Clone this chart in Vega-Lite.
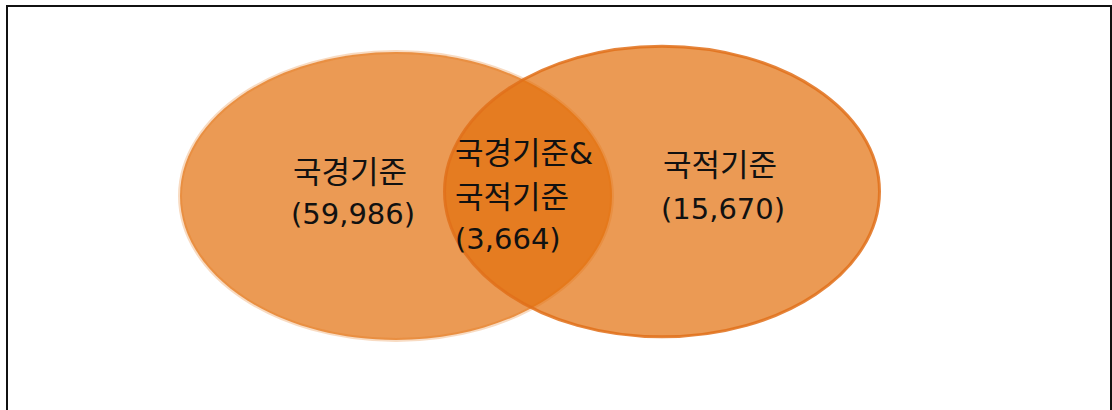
{
  "$schema": "https://vega.github.io/schema/vega-lite/v6.json",
  "width": 1104,
  "height": 420,
  "padding": {"left": 7, "top": 6, "right": 1, "bottom": 0},
  "background": "white",
  "config": {"view": {"stroke": "#111111", "strokeWidth": 2}},
  "datasets": {
    "sets": [
      {"set": "국경기준", "cx": 389, "cy": 190},
      {"set": "국적기준", "cx": 655, "cy": 185.5}
    ],
    "labels": [
      {"region": "국경기준", "kind": "name", "text": "국경기준", "lx": 343, "ly": 168},
      {"region": "국경기준", "kind": "count", "text": "(59,986)", "lx": 346, "ly": 209},
      {"region": "교집합", "kind": "name", "text": "국경기준&", "lx": 448, "ly": 149},
      {"region": "교집합", "kind": "name", "text": "국적기준", "lx": 448, "ly": 193},
      {"region": "교집합", "kind": "count", "text": "(3,664)", "lx": 448, "ly": 234},
      {"region": "국적기준", "kind": "name", "text": "국적기준", "lx": 713, "ly": 161},
      {"region": "국적기준", "kind": "count", "text": "(15,670)", "lx": 716, "ly": 204}
    ]
  },
  "layer": [
    {
      "data": {"name": "sets"},
      "transform": [{"filter": "datum.set === '국경기준'"}],
      "mark": {
        "type": "point",
        "filled": true,
        "shape": "M 1 0 C 1 0.3682 0.5523 0.6667 0 0.6667 C -0.5523 0.6667 -1 0.3682 -1 0 C -1 -0.3682 -0.5523 -0.6667 0 -0.6667 C 0.5523 -0.6667 1 -0.3682 1 0 Z",
        "size": 186624,
        "fill": "#E26F0C",
        "fillOpacity": 0.7,
        "opacity": 1,
        "stroke": "#E26F0C",
        "strokeWidth": 4,
        "strokeOpacity": 0.25
      },
      "encoding": {
        "x": {"field": "cx", "type": "quantitative", "scale": {"domain": [0, 1104], "nice": false, "zero": false}, "axis": null},
        "y": {"field": "cy", "type": "quantitative", "scale": {"domain": [0, 420], "nice": false, "zero": false, "reverse": true}, "axis": null}
      }
    },
    {
      "data": {"name": "sets"},
      "transform": [{"filter": "datum.set === '국적기준'"}],
      "mark": {
        "type": "point",
        "filled": true,
        "shape": "M 1 0 C 1 0.3690 0.5523 0.6682 0 0.6682 C -0.5523 0.6682 -1 0.3690 -1 0 C -1 -0.3690 -0.5523 -0.6682 0 -0.6682 C 0.5523 -0.6682 1 -0.3690 1 0 Z",
        "size": 189225,
        "fill": "#E26F0C",
        "fillOpacity": 0.7,
        "opacity": 1,
        "stroke": "#E0701A",
        "strokeWidth": 3,
        "strokeOpacity": 0.85
      },
      "encoding": {
        "x": {"field": "cx", "type": "quantitative"},
        "y": {"field": "cy", "type": "quantitative"}
      }
    },
    {
      "data": {"name": "labels"},
      "transform": [{"filter": "datum.region !== '교집합'"}],
      "mark": {"type": "text", "align": "center", "baseline": "middle", "font": "DejaVu Sans, Noto Sans CJK KR", "color": "#111111"},
      "encoding": {
        "x": {"field": "lx", "type": "quantitative"},
        "y": {"field": "ly", "type": "quantitative"},
        "text": {"field": "text"},
        "size": {"field": "kind", "type": "nominal", "scale": {"domain": ["name", "count"], "range": [31, 29]}, "legend": null}
      }
    },
    {
      "data": {"name": "labels"},
      "transform": [{"filter": "datum.region === '교집합'"}],
      "mark": {"type": "text", "align": "left", "baseline": "middle", "font": "DejaVu Sans, Noto Sans CJK KR", "color": "#111111"},
      "encoding": {
        "x": {"field": "lx", "type": "quantitative"},
        "y": {"field": "ly", "type": "quantitative"},
        "text": {"field": "text"},
        "size": {"field": "kind", "type": "nominal", "scale": {"domain": ["name", "count"], "range": [31, 29]}, "legend": null}
      }
    }
  ]
}
